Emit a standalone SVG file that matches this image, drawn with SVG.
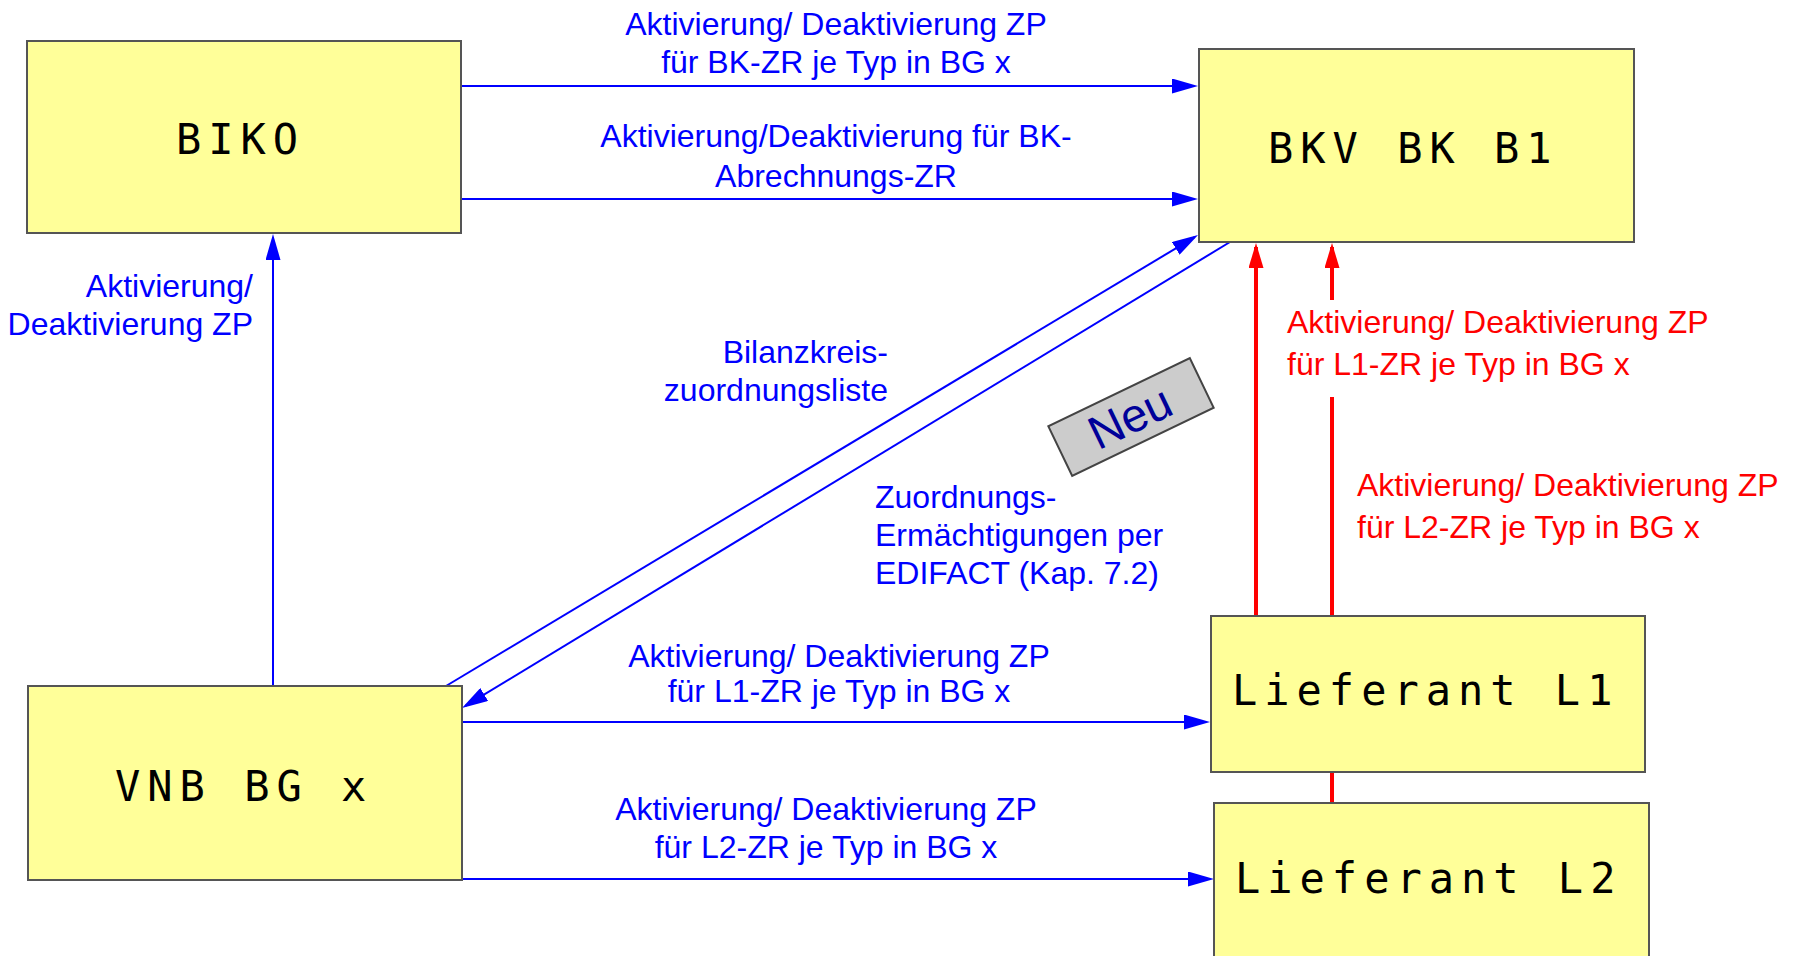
<svg xmlns="http://www.w3.org/2000/svg" width="1794" height="956" viewBox="0 0 1794 956">
<style>
.box{fill:#FFFF99;stroke:#555555;stroke-width:2}
.mono{font-family:"DejaVu Sans Mono",monospace;font-size:42px;letter-spacing:7px;fill:#000}
.lb{font-family:"Liberation Sans",Arial,sans-serif;font-size:32px;fill:#0000FF}
.lr{font-family:"Liberation Sans",Arial,sans-serif;font-size:32px;fill:#FF0000}
.mid{text-anchor:middle}
.end{text-anchor:end}
.cb{stroke:#0000FF;stroke-width:2;fill:none;marker-end:url(#ab)}
.cr{stroke:#FF0000;stroke-width:4;fill:none}
</style>
<defs>
<marker id="ab" markerUnits="userSpaceOnUse" markerWidth="26" markerHeight="15" refX="22" refY="7.5" orient="auto" viewBox="0 0 26 15">
<path d="M0,0 L26,7.5 L0,15 z" fill="#0000FF"/>
</marker>
<marker id="ar" markerUnits="userSpaceOnUse" markerWidth="25" markerHeight="15" refX="21" refY="7.5" orient="auto" viewBox="0 0 25 15">
<path d="M0,0 L25,7.5 L0,15 z" fill="#FF0000"/>
</marker>
</defs>
<rect width="1794" height="956" fill="#FFFFFF"/>
<g id="connectors">
<line class="cb" x1="462" y1="86" x2="1194" y2="86"/>
<line class="cb" x1="462" y1="199" x2="1194" y2="199"/>
<line class="cb" x1="273" y1="686" x2="273" y2="238"/>
<line class="cb" x1="446" y1="686" x2="1194.6" y2="237.1"/>
<line class="cb" x1="1230" y1="242" x2="465.4" y2="705.9"/>
<line class="cb" x1="462" y1="722" x2="1206" y2="722"/>
<line class="cb" x1="462" y1="879" x2="1210" y2="879"/>
<line class="cr" x1="1256" y1="617" x2="1256" y2="247" marker-end="url(#ar)"/>
<line class="cr" x1="1332" y1="804" x2="1332" y2="397"/>
<line class="cr" x1="1332" y1="300" x2="1332" y2="247" marker-end="url(#ar)"/>
</g>
<g id="labels">
<text class="lb mid" x="836" y="35">Aktivierung/ Deaktivierung ZP</text>
<text class="lb mid" x="836" y="73">für BK-ZR je Typ in BG x</text>
<text class="lb mid" x="836" y="147">Aktivierung/Deaktivierung für BK-</text>
<text class="lb mid" x="836" y="187">Abrechnungs-ZR</text>
<text class="lb end" x="253" y="297">Aktivierung/</text>
<text class="lb end" x="253" y="335">Deaktivierung ZP</text>
<text class="lb end" x="888" y="363">Bilanzkreis-</text>
<text class="lb end" x="888" y="401">zuordnungsliste</text>
<text class="lb" x="875" y="508">Zuordnungs-</text>
<text class="lb" x="875" y="546">Ermächtigungen per</text>
<text class="lb" x="875" y="584">EDIFACT (Kap. 7.2)</text>
<text class="lb mid" x="839" y="667">Aktivierung/ Deaktivierung ZP</text>
<text class="lb mid" x="839" y="702">für L1-ZR je Typ in BG x</text>
<text class="lb mid" x="826" y="820">Aktivierung/ Deaktivierung ZP</text>
<text class="lb mid" x="826" y="858">für L2-ZR je Typ in BG x</text>
<text class="lr" x="1287" y="333">Aktivierung/ Deaktivierung ZP</text>
<text class="lr" x="1287" y="375">für L1-ZR je Typ in BG x</text>
<text class="lr" x="1357" y="496">Aktivierung/ Deaktivierung ZP</text>
<text class="lr" x="1357" y="538">für L2-ZR je Typ in BG x</text>
</g>
<g id="biko">
<rect class="box" x="27" y="41" width="434" height="192"/>
<text class="mono" x="176" y="154">BIKO</text>
</g>
<g id="bkv">
<rect class="box" x="1199" y="49" width="435" height="193"/>
<text class="mono" x="1268" y="163">BKV BK B1</text>
</g>
<g id="vnb">
<rect class="box" x="28" y="686" width="434" height="194"/>
<text class="mono" x="115" y="801">VNB BG x</text>
</g>
<g id="l1">
<rect class="box" x="1211" y="616" width="434" height="156"/>
<text class="mono" x="1232" y="705">Lieferant L1</text>
</g>
<g id="l2">
<rect class="box" x="1214" y="803" width="435" height="200"/>
<text class="mono" x="1235" y="893">Lieferant L2</text>
</g>
<g id="neu" transform="translate(1131,417) rotate(-25.7)">
<rect x="-78.5" y="-27.5" width="157" height="55" fill="#CCCCCC" stroke="#444444" stroke-width="2"/>
<text x="-1" y="16" text-anchor="middle" font-family="Liberation Sans, Arial, sans-serif" font-size="47" fill="#000099">Neu</text>
</g>
</svg>
